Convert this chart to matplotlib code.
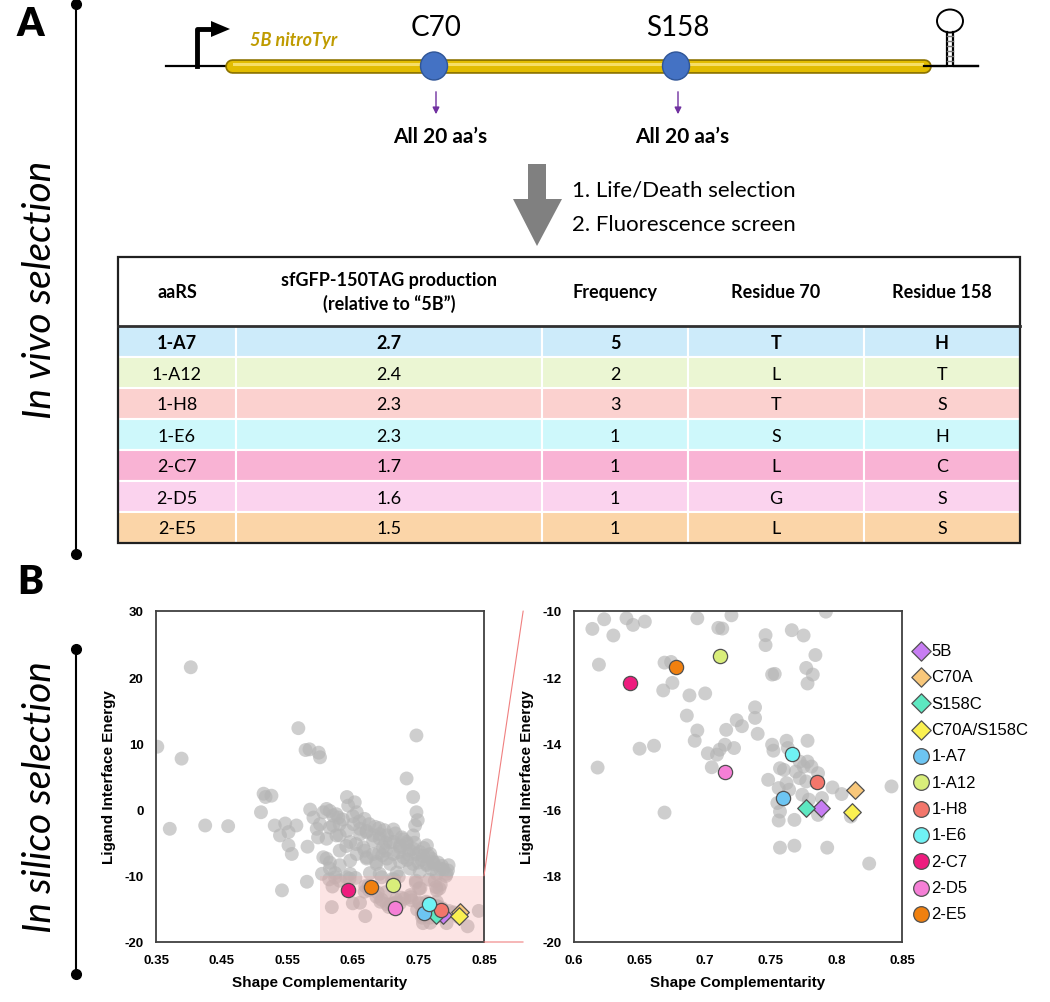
import matplotlib.pyplot as plt
from matplotlib.patches import Rectangle, Ellipse, Polygon, ConnectionPatch

plt.rcParams['font.family'] = ['Lato', 'DejaVu Sans']
plt.rcParams['axes.unicode_minus'] = False

# --- table data (panel A) ---
aars = ['1-A7', '1-A12', '1-H8', '1-E6', '2-C7', '2-D5', '2-E5']
production = [2.7, 2.4, 2.3, 2.3, 1.7, 1.6, 1.5]
frequency = [5, 2, 3, 1, 1, 1, 1]
residue70 = ['T', 'L', 'T', 'S', 'L', 'G', 'L']
residue158 = ['H', 'T', 'S', 'H', 'C', 'S', 'S']
row_colors = ['#CDEBFA', '#EBF6D3', '#FBD1CF', '#CEF8FB', '#F9B3D4', '#FBD3EE', '#FBD5A8']
headers = ['aaRS', 'sfGFP-150TAG production\n(relative to \u201c5B\u201d)', 'Frequency', 'Residue 70', 'Residue 158']

# --- scatter data (panel B) ---
gray_sc = [
    0.614, 0.623, 0.630, 0.640, 0.645, 0.654, 0.619, 0.618, 0.669, 0.674,
    0.675, 0.668, 0.688, 0.700, 0.694, 0.710, 0.713, 0.720, 0.686, 0.694,
    0.692, 0.650, 0.661, 0.702, 0.709, 0.711, 0.715, 0.722, 0.705, 0.716,
    0.724, 0.728, 0.738, 0.738, 0.740, 0.669, 0.746, 0.746, 0.751, 0.753,
    0.766, 0.775, 0.792, 0.784, 0.777, 0.782, 0.778, 0.778, 0.751, 0.752,
    0.762, 0.763, 0.757, 0.760, 0.772, 0.775, 0.778, 0.781, 0.769, 0.772,
    0.786, 0.748, 0.756, 0.762, 0.764, 0.777, 0.774, 0.779, 0.789, 0.797,
    0.804, 0.755, 0.757, 0.756, 0.768, 0.757, 0.768, 0.793, 0.811, 0.825,
    0.842, 0.786,
    0.403, 0.352, 0.389, 0.371, 0.425, 0.460, 0.567, 0.578, 0.584, 0.598,
    0.600, 0.747, 0.732, 0.742, 0.747, 0.749, 0.745, 0.514, 0.517, 0.526,
    0.510, 0.531, 0.547, 0.539, 0.552, 0.564, 0.552, 0.557, 0.581, 0.585,
    0.580, 0.542, 0.641, 0.653, 0.590, 0.605, 0.615, 0.625, 0.643, 0.656,
    0.600, 0.615, 0.630, 0.597, 0.610, 0.625, 0.641, 0.651, 0.646, 0.661,
    0.671, 0.666, 0.681, 0.691, 0.681, 0.696, 0.707, 0.712, 0.722, 0.732,
    0.737, 0.727, 0.747, 0.757, 0.768, 0.763, 0.773, 0.742, 0.742, 0.605,
    0.615, 0.630, 0.603, 0.623, 0.646, 0.676, 0.691, 0.717, 0.788, 0.793,
    0.778, 0.686, 0.707, 0.671, 0.656, 0.646, 0.610, 0.620, 0.661, 0.671,
    0.681, 0.691, 0.702, 0.712, 0.722, 0.732, 0.742, 0.752, 0.763, 0.765,
    0.773, 0.783, 0.795, 0.763, 0.752, 0.737, 0.722, 0.702, 0.686, 0.671,
    0.610, 0.615, 0.630, 0.630, 0.620, 0.595, 0.635, 0.650, 0.660, 0.675,
    0.690, 0.700, 0.715, 0.725, 0.735, 0.755, 0.770, 0.780, 0.700, 0.690,
    0.796, 0.628, 0.668, 0.684, 0.698, 0.712, 0.727, 0.744, 0.758, 0.640,
    0.655, 0.668, 0.695, 0.720, 0.733, 0.750, 0.770, 0.786,
]
gray_lie = [
    -10.54, -10.25, -10.74, -10.22, -10.42, -10.32, -11.62, -14.73, -11.56, -11.54,
    -12.17, -12.40, -12.55, -12.49, -10.22, -10.51, -10.53, -10.13, -13.16, -13.61,
    -13.92, -14.16, -14.07, -14.30, -14.34, -14.19, -14.04, -14.14, -14.72, -13.59,
    -13.30, -13.48, -12.91, -13.23, -13.71, -16.09, -10.73, -11.03, -11.92, -11.90,
    -10.58, -10.74, -10.02, -11.33, -11.72, -11.92, -12.19, -13.92, -14.04, -14.22,
    -13.92, -14.14, -14.75, -14.80, -14.55, -14.70, -14.55, -14.70, -14.85, -15.05,
    -14.90, -15.10, -15.35, -15.20, -15.40, -15.15, -15.55, -15.70, -15.65, -15.33,
    -15.53, -15.80, -16.06, -16.33, -16.31, -17.15, -17.09, -17.15, -16.21, -17.63,
    -15.30, -16.16,
    21.5, 9.5, 7.7, -2.9, -2.4, -2.5, 12.3, 9.0, 9.1, 8.6,
    7.9, 11.2, 4.7, 1.9, -0.4, -1.6, -2.4, 2.4, 1.9, 2.1,
    -0.4, -2.4, -2.1, -3.9, -3.4, -2.4, -5.4, -6.7, -5.6, 0.0,
    -10.9, -12.2, 1.9, 1.1, -1.2, -0.4, -0.2, -0.7, 0.6, -0.4,
    -2.2, -2.7, -2.2, -4.2, -4.4, -3.9, -3.2, -2.2, -4.9, -3.7,
    -3.2, -5.7, -4.7, -3.7, -6.7, -5.7, -4.9, -6.7, -5.7, -5.2,
    -6.2, -7.2, -6.7, -7.0, -6.7, -8.2, -8.2, -8.2, -3.9, -7.2,
    -8.0, -6.2, -9.7, -9.6, -9.7, -9.6, -9.7, -9.5, -9.0, -9.7,
    -9.7, -8.2, -8.2, -7.2, -6.7, -7.7, 0.1, -0.9, -2.9, -3.4,
    -3.9, -4.4, -3.9, -4.9, -5.4, -4.9, -5.9, -6.4, -5.4, -6.9,
    -7.9, -8.9, -9.2, -8.4, -9.4, -8.9, -7.9, -7.4, -7.9, -7.4,
    -7.4, -8.9, -8.4, -3.9, -2.4, -2.9, -1.5, -1.0, -1.8, -2.2,
    -2.8, -5.0, -3.6, -4.2, -6.8, -7.6, -7.4, -8.0, -6.2, -6.5,
    -8.4, -1.2, -1.4, -2.6, -3.1, -3.0, -4.5, -5.0, -5.8, -5.5,
    -5.2, -6.2, -6.9, -6.4, -7.6, -8.0, -9.0, -8.5,
]

variants = ['5B', 'C70A', 'S158C', 'C70A/S158C', '1-A7', '1-A12', '1-H8',
            '1-E6', '2-C7', '2-D5', '2-E5']
var_sc = [0.788, 0.814, 0.777, 0.812, 0.759, 0.711, 0.785, 0.766, 0.643, 0.715, 0.678]
var_lie = [-15.94, -15.42, -15.94, -16.06, -15.66, -11.37, -15.16, -14.32, -12.18, -14.87, -11.70]
var_marker = ['D', 'D', 'D', 'D', 'o', 'o', 'o', 'o', 'o', 'o', 'o']
var_color = ['#C77DF3', '#F8C77A', '#5DE8C1', '#FAF050', '#6DC5F2', '#D9EE7A',
             '#F3766B', '#6FF2F4', '#EE1C7E', '#F57FD6', '#F0800F']

fig = plt.figure(figsize=(10.5, 10.03), dpi=100)

# overlay axes in pixel coordinates for the diagram and table
ax0 = fig.add_axes([0, 0, 1, 1])
ax0.set_xlim(0, 1050)
ax0.set_ylim(1003, 0)
ax0.axis('off')

# panel letters and side bars
ax0.text(30, 24, 'A', fontsize=28, weight='heavy', ha='center', va='center')
ax0.text(30, 582, 'B', fontsize=28, weight='heavy', ha='center', va='center')
ax0.plot([76, 76], [5, 555], color='black', lw=1.5, marker='o', ms=7)
ax0.plot([76, 76], [650, 975], color='black', lw=1.5, marker='o', ms=7)
ax0.text(40, 290, 'In vivo selection', rotation=90, style='italic', fontsize=28,
         ha='center', va='center')
ax0.text(40, 797, 'In silico selection', rotation=90, style='italic', fontsize=28,
         ha='center', va='center')

# gene construct
ax0.plot([166, 978], [67, 67], color='black', lw=1.6)
ax0.plot([232, 924], [67, 67], color='#8C7300', lw=10.5, solid_capstyle='round')
ax0.plot([232, 924], [67, 67], color='#E2BC00', lw=8.0, solid_capstyle='round')
ax0.plot([234, 922], [64.5, 64.5], color='#F6DE66', lw=2.2)
ax0.plot([197, 197, 213], [67, 30, 30], color='black', lw=3.5)
ax0.add_patch(Polygon([(211, 22), (230, 30), (211, 38)], fc='black', ec='none'))
ax0.text(250, 40, '5B nitroTyr', color='#BF9B00', style='italic', weight='bold',
         fontsize=13, va='center')
# terminator hairpin
ax0.plot([924, 947, 947], [67, 67, 33], color='black', lw=1.6)
ax0.plot([953, 953, 978], [33, 67, 67], color='black', lw=1.6)
ax0.add_patch(Ellipse((950, 22), 26, 23, fill=False, ec='black', lw=1.4))
for yy in range(37, 65, 5):
    ax0.plot([947, 953], [yy, yy], color='#777777', lw=1)

for xc, lab in [(434, 'C70'), (676, 'S158')]:
    ax0.add_patch(Ellipse((xc, 67), 27, 28, fc='#4472C4', ec='#2F5597', lw=1, zorder=3))
    ax0.text(xc + 2, 28, lab, fontsize=20, ha='center', va='center')
    ax0.annotate('', xy=(xc + 2, 118), xytext=(xc + 2, 90),
                 arrowprops=dict(arrowstyle='-|>', color='#7030A0', lw=1, mutation_scale=10))
    ax0.text(xc + 6, 137, 'All 20 aa\u2019s', fontsize=15, weight='bold', ha='center', va='center')

# big grey arrow and steps
ax0.add_patch(Polygon([(528, 165), (546, 165), (546, 200), (562, 200), (537, 247),
                       (513, 200), (528, 200)], fc='#808080', ec='none'))
ax0.text(572, 190, '1. Life/Death selection', fontsize=16, va='center')
ax0.text(572, 225, '2. Fluorescence screen', fontsize=16, va='center')

# table
col_edges = [118, 236, 542, 688, 864, 1020]
head_top, head_bot, row_h = 258, 327, 31
for j, h in enumerate(headers):
    xc = (col_edges[j] + col_edges[j + 1]) / 2
    ax0.text(xc, (head_top + head_bot) / 2, h, fontsize=13, weight='bold',
             ha='center', va='center', linespacing=1.4)
for i in range(len(aars)):
    y0 = head_bot + i * row_h
    vals = [aars[i], f'{production[i]:.1f}', str(frequency[i]), residue70[i], residue158[i]]
    for j, v in enumerate(vals):
        ax0.add_patch(Rectangle((col_edges[j], y0), col_edges[j + 1] - col_edges[j], row_h,
                                fc=row_colors[i], ec='white', lw=1.5))
        ax0.text((col_edges[j] + col_edges[j + 1]) / 2, y0 + row_h / 2 + 1, v, fontsize=13,
                 weight='bold' if i == 0 else 'normal', ha='center', va='center')
table_bot = head_bot + len(aars) * row_h
ax0.add_patch(Rectangle((col_edges[0], head_top), col_edges[-1] - col_edges[0],
                        table_bot - head_top, fill=False, ec='#202020', lw=1.6, zorder=4))
ax0.plot([col_edges[0], col_edges[-1]], [head_bot, head_bot], color='#303030', lw=2, zorder=4)

# scatter plots
axL = fig.add_axes([156 / 1050, 60 / 1003, 328 / 1050, 331 / 1003])
axR = fig.add_axes([574 / 1050, 60 / 1003, 328 / 1050, 331 / 1003])

for ax, xlim, ylim, xt, yt in [
        (axL, (0.35, 0.85), (-20, 30), [0.35, 0.45, 0.55, 0.65, 0.75, 0.85], range(-20, 31, 10)),
        (axR, (0.6, 0.85), (-20, -10), [0.6, 0.65, 0.7, 0.75, 0.8, 0.85], range(-20, -9, 2))]:
    ax.scatter(gray_sc, gray_lie, s=100, color='#B4B4B4', alpha=0.65, edgecolors='none',
               zorder=1, clip_on=True)
    for k in range(len(variants)):
        ax.scatter(var_sc[k], var_lie[k], s=105 if var_marker[k] == 'o' else 80,
                   marker=var_marker[k], color=var_color[k], edgecolors='#505050',
                   linewidths=0.9, zorder=3, label=variants[k])
    ax.set_xlim(*xlim)
    ax.set_ylim(*ylim)
    ax.set_xticks(xt)
    ax.set_xticklabels([f'{v:g}' for v in xt])
    ax.set_yticks(list(yt))
    ax.tick_params(length=0, pad=9, labelsize=9.5)
    for lbl in ax.get_xticklabels() + ax.get_yticklabels():
        lbl.set_fontfamily('Liberation Sans')
        lbl.set_fontweight('bold')
    for sp in ax.spines.values():
        sp.set_color('#404040')
        sp.set_linewidth(1.3)
    ax.set_xlabel('Shape Complementarity', fontsize=11, weight='bold',
                  family='Liberation Sans', labelpad=6)
    ax.set_ylabel('Ligand Interface Energy', fontsize=11, weight='bold',
                  family='Liberation Sans', labelpad=6)

axL.add_patch(Rectangle((0.6, -20), 0.25, 10, fc='#F5A0A0', alpha=0.28, ec='none', zorder=2))
for ya, yb in [(-10, 1.0), (-20, 0.0)]:
    con = ConnectionPatch(xyA=(0.85, ya), coordsA=axL.transData, xyB=(-0.155, yb),
                          coordsB=axR.transAxes, color='#F08080', lw=0.8)
    fig.add_artist(con)

handles, labels = axR.get_legend_handles_labels()
fig.legend(handles, labels, loc='upper left', bbox_to_anchor=(913 / 1050, 1 - 644 / 1003),
           frameon=False, prop={'family': 'Liberation Sans', 'size': 12},
           handletextpad=0.1, labelspacing=0.68, handlelength=1.0, borderpad=0,
           borderaxespad=0, markerscale=1.1)

fig.savefig('out.png', dpi=100)
